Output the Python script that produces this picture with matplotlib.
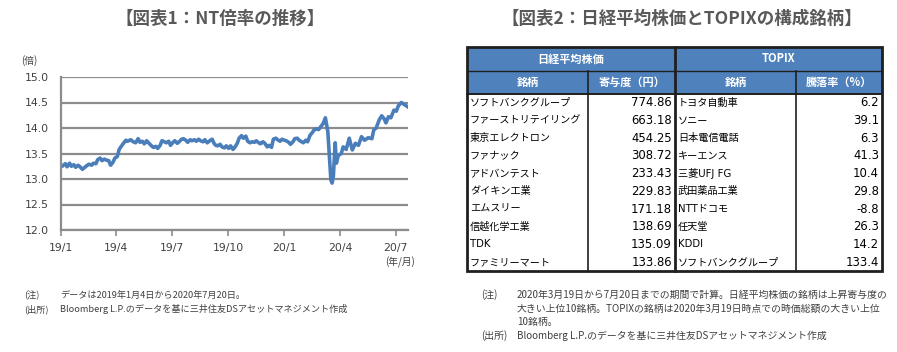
import matplotlib
matplotlib.use("Agg")
import matplotlib.pyplot as plt
from matplotlib.patches import Rectangle
import pandas as pd

plt.rcParams['font.family'] = ['DejaVu Sans', 'Noto Sans CJK JP']

# ---------------- data ----------------
nt_dates = [
    "2019-01-04", "2019-01-08", "2019-01-11", "2019-01-15", "2019-01-18", "2019-01-22", "2019-01-25",
    "2019-01-29", "2019-02-01", "2019-02-05", "2019-02-08", "2019-02-13", "2019-02-16", "2019-02-20",
    "2019-02-23", "2019-02-27", "2019-03-02", "2019-03-06", "2019-03-09", "2019-03-13", "2019-03-16",
    "2019-03-20", "2019-03-23", "2019-03-27", "2019-03-30", "2019-04-03", "2019-04-06", "2019-04-10",
    "2019-04-13", "2019-04-17", "2019-04-20", "2019-04-25", "2019-04-29", "2019-05-03", "2019-05-07",
    "2019-05-10", "2019-05-14", "2019-05-17", "2019-05-21", "2019-05-24", "2019-05-28", "2019-06-01",
    "2019-06-05", "2019-06-08", "2019-06-12", "2019-06-15", "2019-06-19", "2019-06-22", "2019-06-26",
    "2019-06-29", "2019-07-03", "2019-07-06", "2019-07-10", "2019-07-13", "2019-07-17", "2019-07-20",
    "2019-07-24", "2019-07-27", "2019-07-31", "2019-08-03", "2019-08-07", "2019-08-10", "2019-08-14",
    "2019-08-17", "2019-08-21", "2019-08-24", "2019-08-28", "2019-09-01", "2019-09-05", "2019-09-08",
    "2019-09-11", "2019-09-14", "2019-09-18", "2019-09-21", "2019-09-25", "2019-09-28", "2019-10-02",
    "2019-10-05", "2019-10-09", "2019-10-12", "2019-10-16", "2019-10-19", "2019-10-23", "2019-10-26",
    "2019-10-30", "2019-11-02", "2019-11-06", "2019-11-09", "2019-11-13", "2019-11-16", "2019-11-20",
    "2019-11-23", "2019-11-27", "2019-11-30", "2019-12-04", "2019-12-07", "2019-12-11", "2019-12-14",
    "2019-12-18", "2019-12-21", "2019-12-25", "2019-12-28", "2020-01-01", "2020-01-04", "2020-01-08",
    "2020-01-11", "2020-01-15", "2020-01-18", "2020-01-22", "2020-01-25", "2020-01-29", "2020-02-01",
    "2020-02-05", "2020-02-08", "2020-02-12", "2020-02-15", "2020-02-19", "2020-02-22", "2020-02-26",
    "2020-02-29", "2020-03-04", "2020-03-08", "2020-03-12", "2020-03-14", "2020-03-17", "2020-03-19",
    "2020-03-21", "2020-03-24", "2020-03-26", "2020-03-29", "2020-04-03", "2020-04-06", "2020-04-11",
    "2020-04-16", "2020-04-21", "2020-04-26", "2020-05-01", "2020-05-06", "2020-05-11", "2020-05-17",
    "2020-05-23", "2020-05-26", "2020-05-30", "2020-06-04", "2020-06-08", "2020-06-12", "2020-06-15",
    "2020-06-19", "2020-06-23", "2020-06-28", "2020-07-02", "2020-07-05", "2020-07-10", "2020-07-15",
    "2020-07-20",
]
nt_values = [
    13.26, 13.30, 13.24, 13.31, 13.25, 13.28, 13.23,
    13.27, 13.24, 13.19, 13.22, 13.27, 13.29, 13.27,
    13.31, 13.30, 13.38, 13.41, 13.36, 13.39, 13.37,
    13.36, 13.27, 13.33, 13.41, 13.44, 13.58, 13.65,
    13.70, 13.76, 13.74, 13.77, 13.73, 13.71, 13.79,
    13.72, 13.74, 13.69, 13.75, 13.71, 13.66, 13.62,
    13.64, 13.60, 13.66, 13.75, 13.73, 13.71, 13.74,
    13.66, 13.72, 13.75, 13.70, 13.73, 13.78, 13.79,
    13.76, 13.72, 13.77, 13.75, 13.77, 13.74, 13.78,
    13.75, 13.73, 13.77, 13.71, 13.75, 13.78, 13.70,
    13.66, 13.65, 13.68, 13.63, 13.61, 13.65, 13.60,
    13.65, 13.58, 13.62, 13.70, 13.80, 13.85, 13.80,
    13.84, 13.74, 13.71, 13.73, 13.72, 13.75, 13.71,
    13.69, 13.73, 13.70, 13.63, 13.66, 13.62, 13.78,
    13.80, 13.77, 13.74, 13.78, 13.76, 13.75, 13.72,
    13.68, 13.73, 13.79, 13.80, 13.76, 13.73, 13.71,
    13.76, 13.73, 13.86, 13.90, 13.97, 13.98, 13.97,
    14.02, 14.08, 14.20, 13.93, 13.54, 12.98, 12.92,
    13.05, 13.71, 13.31, 13.46, 13.50, 13.63, 13.58,
    13.80, 13.57, 13.70, 13.66, 13.83, 13.76, 13.81,
    13.79, 13.96, 14.00, 14.16, 14.24, 14.18, 14.10,
    14.22, 14.20, 14.35, 14.33, 14.43, 14.50, 14.46,
    14.42,
]

y_ticks = [12.0, 12.5, 13.0, 13.5, 14.0, 14.5, 15.0]
x_tick_dates = ["2019-01-01", "2019-04-01", "2019-07-01", "2019-10-01", "2020-01-01", "2020-04-01", "2020-07-01"]
x_tick_labels = ["19/1", "19/4", "19/7", "19/10", "20/1", "20/4", "20/7"]

nikkei_names = ["ソフトバンクグループ", "ファーストリテイリング", "東京エレクトロン", "ファナック", "アドバンテスト",
                "ダイキン工業", "エムスリー", "信越化学工業", "TDK", "ファミリーマート"]
nikkei_contrib = [774.86, 663.18, 454.25, 308.72, 233.43, 229.83, 171.18, 138.69, 135.09, 133.86]
topix_names = ["トヨタ自動車", "ソニー", "日本電信電話", "キーエンス", "三菱UFJ FG",
               "武田薬品工業", "NTTドコモ", "任天堂", "KDDI", "ソフトバンクグループ"]
topix_change = [6.2, 39.1, 6.3, 41.3, 10.4, 29.8, -8.8, 26.3, 14.2, 133.4]

# ---------------- figure ----------------
W, H = 897, 352
fig = plt.figure(figsize=(W / 100, H / 100), dpi=100)
fig.patch.set_facecolor("white")

grey_txt = "#404040"
line_col = "#4a7ebb"
grid_col = "#8c8c8c"
cjk = ["Noto Sans CJK JP", "DejaVu Sans"]


def fx(px):
    return px / W


def fy(py):
    return 1 - py / H


# line chart axes (pixel box: left 61, right 408, top 77, bottom 230)
ax = fig.add_axes([fx(61), fy(230), (408 - 61) / W, (230 - 77) / H])
dates = pd.to_datetime(nt_dates)
ax.plot(dates, nt_values, color=line_col, lw=2.6, solid_joinstyle="round")
ax.set_ylim(12.0, 15.0)
ax.set_xlim(pd.Timestamp("2019-01-01"), pd.Timestamp("2020-07-21"))
ax.set_yticks(y_ticks)
ax.set_yticklabels([f"{v:.1f}" for v in y_ticks])
ax.set_xticks(pd.to_datetime(x_tick_dates))
ax.set_xticklabels(x_tick_labels)
ax.yaxis.grid(True, color=grid_col, lw=1.6)
ax.set_axisbelow(True)
for s in ["top", "right"]:
    ax.spines[s].set_visible(False)
for s in ["left", "bottom"]:
    ax.spines[s].set_color(grid_col)
    ax.spines[s].set_linewidth(1.6)
ax.tick_params(axis="y", length=0, pad=9, labelsize=7.8, labelcolor=grey_txt)
ax.tick_params(axis="x", length=4, width=1.2, color=grid_col, pad=5, labelsize=7.8, labelcolor=grey_txt)

# overlay axes in pixel coords for text and table
ov = fig.add_axes([0, 0, 1, 1])
ov.set_xlim(0, W)
ov.set_ylim(H, 0)
ov.axis("off")

title_kw = dict(fontsize=12.6, fontweight="bold", color="#595959", ha="center", va="center", family=cjk)
ov.text(220, 19, "【図表1：NT倍率の推移】", **title_kw)
ov.text(682, 19, "【図表2：日経平均株価とTOPIXの構成銘柄】", **title_kw)

small_kw = dict(fontsize=7, color=grey_txt, family=cjk, va="center")
ov.text(21, 61, "(倍)", ha="left", **small_kw)
ov.text(400, 262, "(年/月)", ha="center", **small_kw)

# footnotes
note_l = dict(fontsize=6.6, color=grey_txt, family=cjk, va="center", ha="left")
ov.text(24, 295, "(注)", **note_l)
ov.text(60, 295, "データは2019年1月4日から2020年7月20日。", **note_l)
ov.text(24, 309, "(出所)", **note_l)
ov.text(60, 309, "Bloomberg L.P.のデータを基に三井住友DSアセットマネジメント作成", **note_l)

note_r = dict(fontsize=7.1, color=grey_txt, family=cjk, va="center", ha="left")
ov.text(481, 295, "(注)", **note_r)
ov.text(517, 295, "2020年3月19日から7月20日までの期間で計算。日経平均株価の銘柄は上昇寄与度の", **note_r)
ov.text(517, 309, "大きい上位10銘柄。TOPIXの銘柄は2020年3月19日時点での時価総額の大きい上位", **note_r)
ov.text(517, 322, "10銘柄。", **note_r)
ov.text(481, 336, "(出所)", **note_r)
ov.text(517, 336, "Bloomberg L.P.のデータを基に三井住友DSアセットマネジメント作成", **note_r)

# ---------------- table ----------------
hdr_col = "#4f81bd"
tx0, tx1 = 467, 882
col_x = [467, 588, 675, 796, 882]
ty0, ty1, ty2, ty_end = 47, 71, 94, 271
n_rows = len(nikkei_names)
row_h = (ty_end - ty2) / n_rows

ov.add_patch(Rectangle((tx0, ty0), tx1 - tx0, ty2 - ty0, facecolor=hdr_col, edgecolor="none"))
ov.add_patch(Rectangle((tx0, ty2), tx1 - tx0, ty_end - ty2, facecolor="white", edgecolor="none"))

hdr_kw = dict(fontsize=8, fontweight="bold", color="white", ha="center", va="center", family=cjk)
ov.text((col_x[0] + col_x[2]) / 2, (ty0 + ty1) / 2, "日経平均株価", **hdr_kw)
ov.text((col_x[2] + col_x[4]) / 2, (ty0 + ty1) / 2, "TOPIX", **hdr_kw)
sub_headers = ["銘柄", "寄与度（円）", "銘柄", "騰落率（%）"]
for i, t in enumerate(sub_headers):
    ov.text((col_x[i] + col_x[i + 1]) / 2, (ty1 + ty2) / 2, t, **hdr_kw)

name_kw = dict(fontsize=7.3, color="black", va="center", ha="left", family=["DejaVu Sans", "Noto Sans CJK JP"])
num_kw = dict(fontsize=8.4, color="black", va="center", ha="right", family=["DejaVu Sans"])
for r in range(n_rows):
    yc = ty2 + (r + 0.5) * row_h
    ov.text(col_x[0] + 3, yc, nikkei_names[r], **name_kw)
    ov.text(col_x[2] - 3, yc, f"{nikkei_contrib[r]:.2f}", **num_kw)
    ov.text(col_x[2] + 3, yc, topix_names[r], **name_kw)
    ov.text(col_x[4] - 3, yc, f"{topix_change[r]:.1f}", **num_kw)

# grid lines
ov.plot([tx0, tx1], [ty1, ty1], color="#1f1f1f", lw=1.0)
ov.plot([tx0, tx1], [ty2, ty2], color="#1f1f1f", lw=1.4)
ov.plot([col_x[1], col_x[1]], [ty1, ty_end], color="#1f1f1f", lw=1.2)
ov.plot([col_x[3], col_x[3]], [ty1, ty_end], color="#1f1f1f", lw=1.2)
ov.plot([col_x[2], col_x[2]], [ty0, ty_end], color="#1f1f1f", lw=2.0)
ov.add_patch(Rectangle((tx0, ty0), tx1 - tx0, ty_end - ty0, facecolor="none", edgecolor="#1f1f1f", lw=2.0))

fig.savefig("out.png", dpi=100, facecolor="white")
